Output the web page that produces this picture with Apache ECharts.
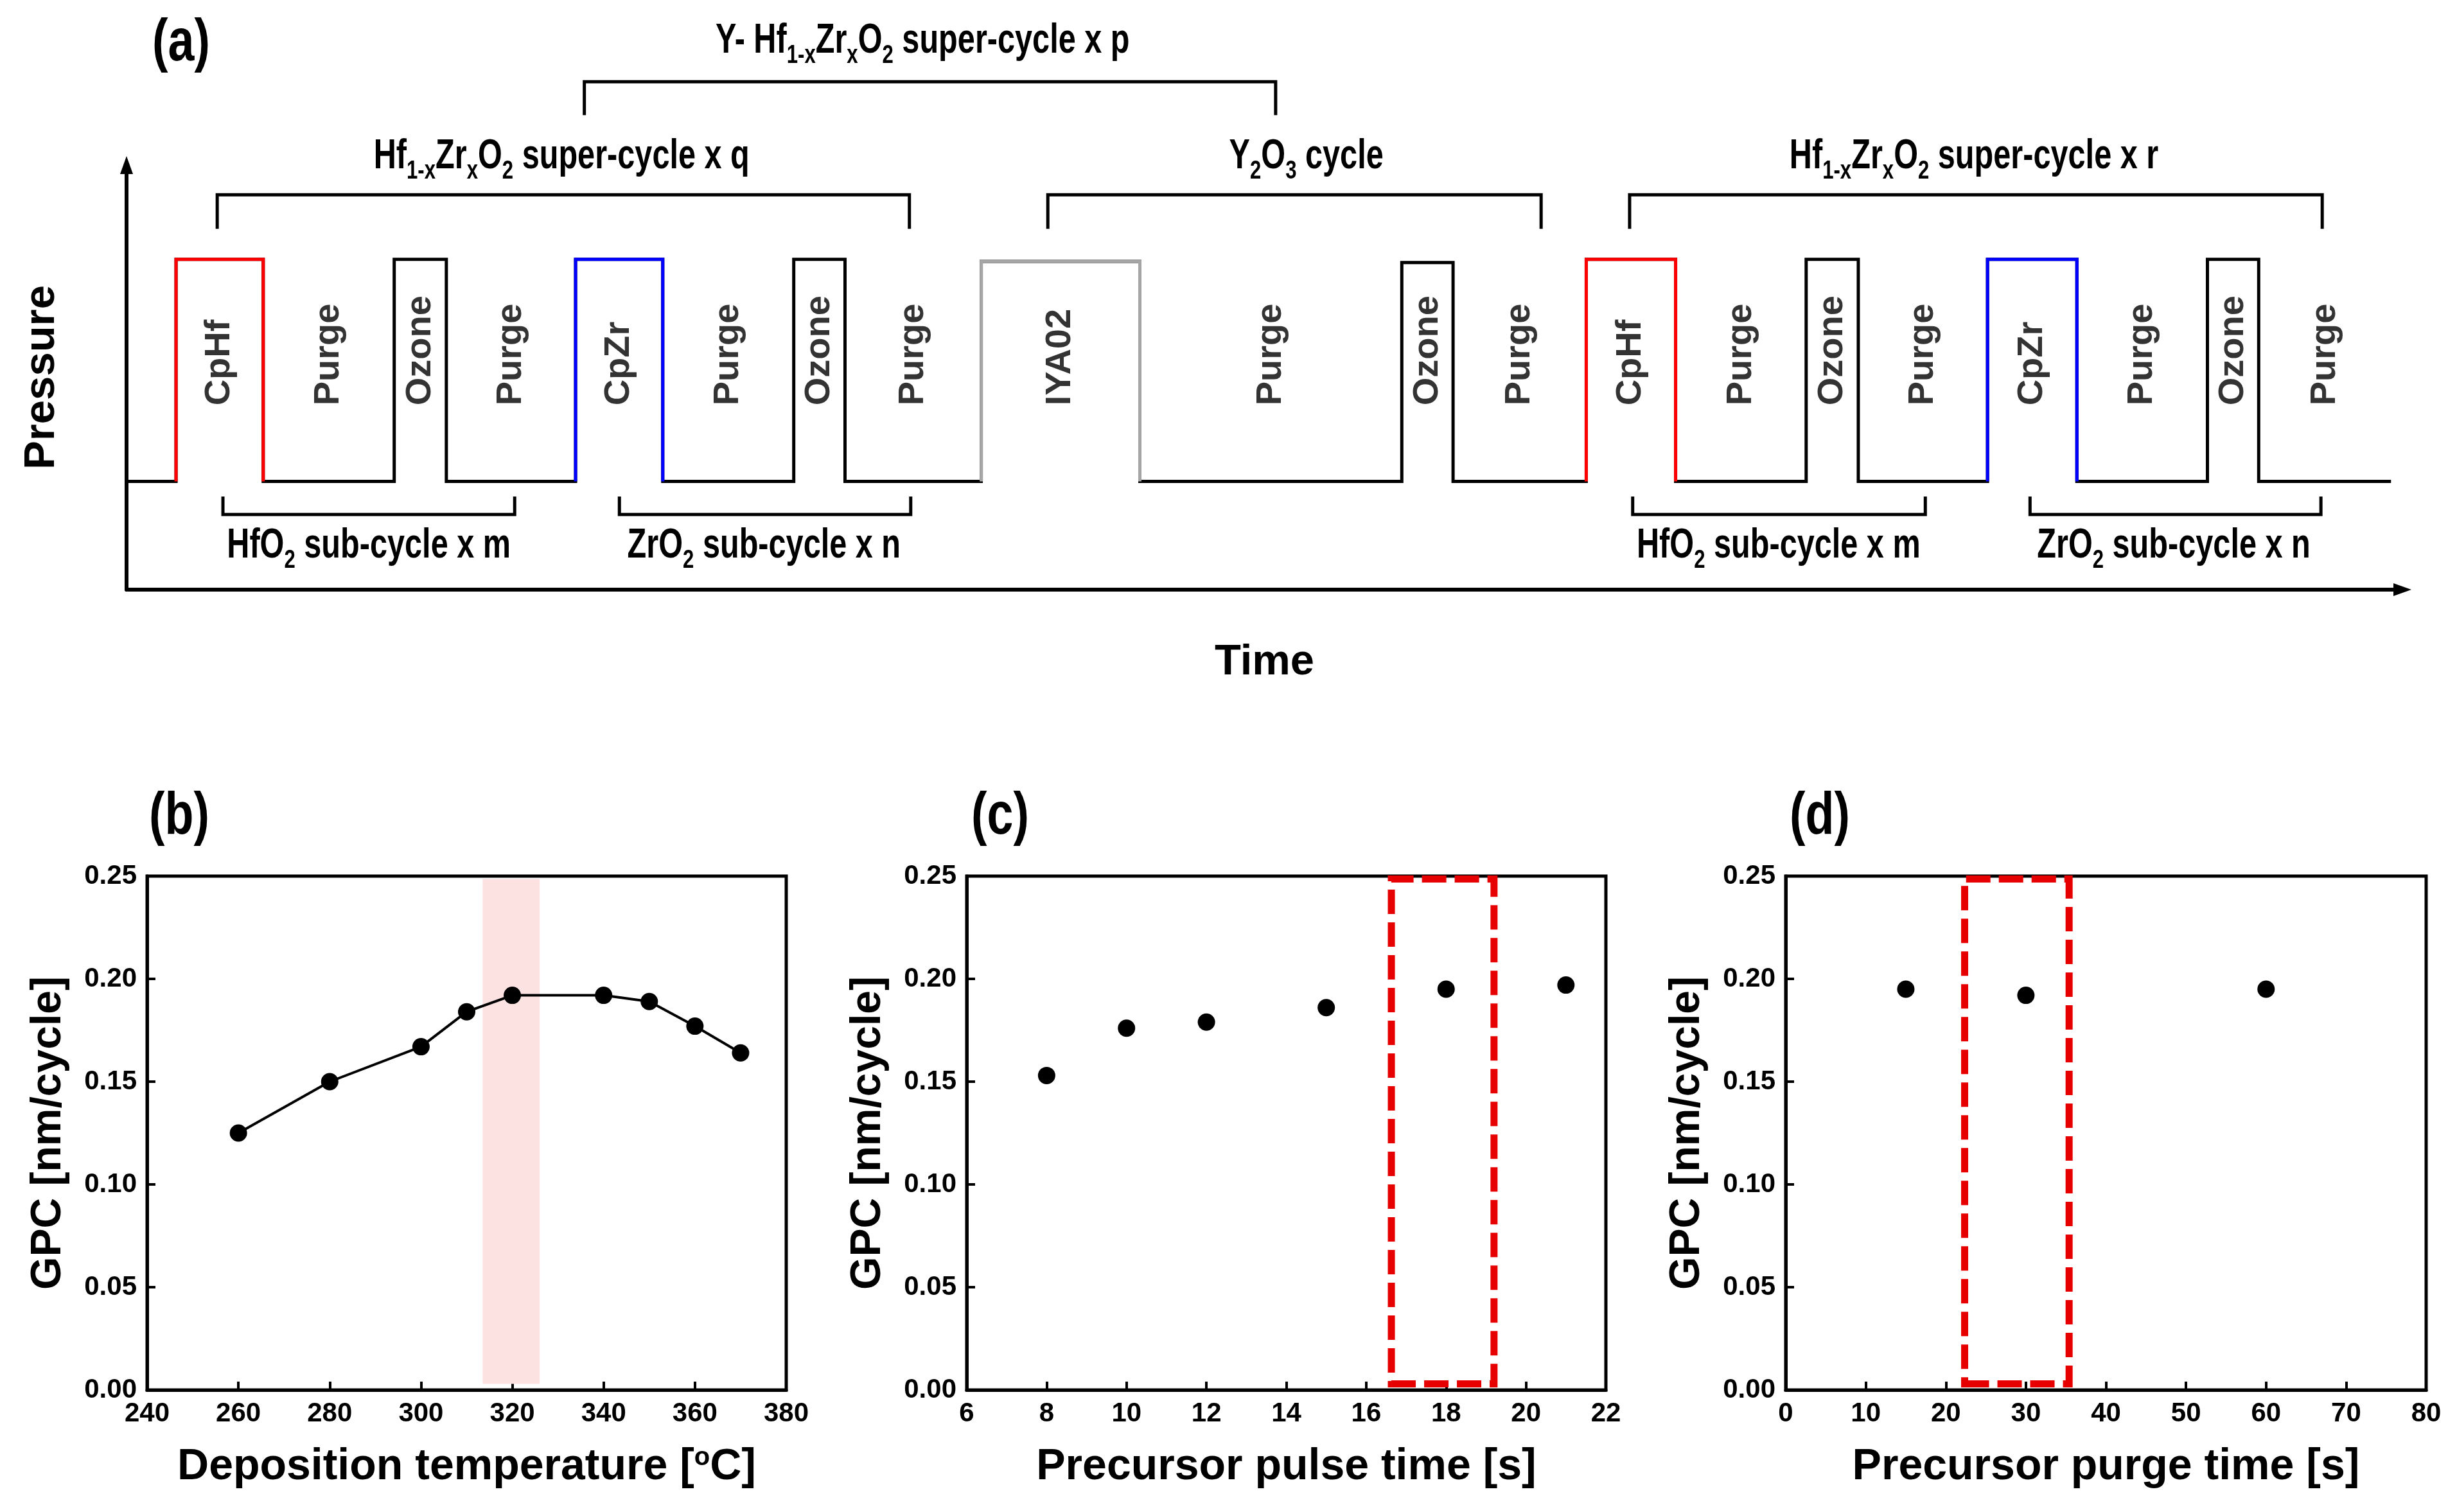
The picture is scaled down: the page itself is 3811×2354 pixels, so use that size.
<!DOCTYPE html>
<html><head><meta charset="utf-8">
<script src="https://cdn.jsdelivr.net/npm/echarts/dist/echarts.min.js"></script>
<style>html,body{margin:0;padding:0;background:#fff}#c{width:3811px;height:2354px}</style>
</head><body><div id="c"></div>
<script>
// ---------- (a) process sequence diagram data (time in arbitrary units, pressure in arbitrary units) ----------
const segNames    = ['', 'CpHf','Purge','Ozone','Purge','CpZr','Purge','Ozone','Purge','IYA02','Purge','Ozone','Purge','CpHf','Purge','Ozone','Purge','CpZr','Purge','Ozone','Purge'];
const segDur      = [1.13, 1.99, 2.99, 1.19, 2.95, 1.99, 2.99, 1.17, 3.11, 3.62, 5.98, 1.17, 3.04, 2.04, 2.98, 1.19, 2.95, 2.04, 2.98, 1.17, 3.02];
const segKind     = ['base','Hf','base','O3','base','Zr','base','O3','base','Y','base','O3','base','Hf','base','O3','base','Zr','base','O3','base'];
const segPressure = [1, 3.05, 1, 3.05, 1, 3.05, 1, 3.05, 1, 3.03, 1, 3.02, 1, 3.05, 1, 3.05, 1, 3.05, 1, 3.05, 1];
const basePressure = 1;

// brackets: [start, end] in time units, [bar level, tip level] in pressure units
const bracketSpan  = [[2.07,17.87],[21.03,32.29],[34.31,50.12],[10.45,26.23],[2.2,8.86],[11.25,17.9],[34.38,41.06],[43.45,50.09]];
const bracketLevel = [[3.65,3.335],[3.65,3.335],[3.65,3.335],[4.694,4.386],[0.694,0.861],[0.694,0.861],[0.694,0.861],[0.694,0.861]];
const bracketText  = [
  'Hf{s|1-x}Zr{s|x}O{s|2} super-cycle x q',
  'Y{s|2}O{s|3} cycle',
  'Hf{s|1-x}Zr{s|x}O{s|2} super-cycle x r',
  'Y- Hf{s|1-x}Zr{s|x}O{s|2} super-cycle x p',
  'HfO{s|2} sub-cycle x m',
  'ZrO{s|2} sub-cycle x n',
  'HfO{s|2} sub-cycle x m',
  'ZrO{s|2} sub-cycle x n'
];
const bracketTextAt = [[9.93,4.0],[26.93,4.0],[42.17,4.0],[18.17,5.07],[5.53,0.40],[14.55,0.40],[37.71,0.40],[46.73,0.40]];
const stepLabelLevel = 1.70;

// ---------- (b) GPC vs deposition temperature ----------
const tempX   = [260, 280, 300, 310, 320, 340, 350, 360, 370];
const tempGPC = [0.125, 0.150, 0.167, 0.184, 0.192, 0.192, 0.189, 0.177, 0.164];
const tempWindow = [313.5, 326];
// ---------- (c) GPC vs precursor pulse time ----------
const pulseX   = [8, 10, 12, 15, 18, 21];
const pulseGPC = [0.153, 0.176, 0.179, 0.186, 0.195, 0.197];
const pulseWindow = [16.63, 19.2];
// ---------- (d) GPC vs precursor purge time ----------
const purgeX   = [15, 30, 60];
const purgeGPC = [0.195, 0.192, 0.195];
const purgeWindow = [22.35, 35.4];
const windowGPC = [0.003, 0.2486];

const panelLabels = ['(a)', '(b)', '(c)', '(d)'];

// ---------- styles ----------
const kindColor = {base:'#000', O3:'#000', Hf:'#ff0000', Zr:'#0000ff', Y:'#a6a6a6'};
const BOLD = "'Liberation Sans', Arial, sans-serif";
const NARROW_SCALE = 0.76;

// build waveform
let t = 0;
const segStart = [], segEnd = [];
segDur.forEach((d,i)=>{ segStart.push(t); t += d; segEnd.push(t); });
const wave = [[0, basePressure]];
segDur.forEach((d,i)=>{
  if (segKind[i] !== 'base') {
    wave.push([segStart[i], basePressure], [segStart[i], segPressure[i]], [segEnd[i], segPressure[i]], [segEnd[i], basePressure]);
  } else wave.push([segEnd[i], basePressure]);
});

const series = [];
series.push({type:'line', xAxisIndex:0, yAxisIndex:0, data: wave, symbol:'none', silent:true,
  lineStyle:{color:'#000', width:5, join:'miter'}, z:2});
segDur.forEach((d,i)=>{
  if (segKind[i]==='Hf'||segKind[i]==='Zr'||segKind[i]==='Y') {
    series.push({type:'line', xAxisIndex:0, yAxisIndex:0, symbol:'none', silent:true, z:3,
      lineStyle:{color:kindColor[segKind[i]], width:5, join:'miter'},
      data:[[segStart[i], basePressure],[segStart[i], segPressure[i]],[segEnd[i], segPressure[i]],[segEnd[i], basePressure]]});
  }
});
// step labels
series.push({type:'scatter', xAxisIndex:0, yAxisIndex:0, symbolSize:1, itemStyle:{color:'rgba(0,0,0,0)'}, silent:true,
  data: segNames.map((n,i)=> n ? {value:[(segStart[i]+segEnd[i])/2, stepLabelLevel], name:n} : null).filter(Boolean),
  label:{show:true, position:'inside', formatter:'{b}', rotate:90, align:'left', verticalAlign:'middle',
    fontFamily:BOLD, fontWeight:'bold', fontSize:56, color:'#000'}});
// brackets
bracketSpan.forEach((s,i)=>{
  const [bar, tip] = bracketLevel[i];
  series.push({type:'line', xAxisIndex:1, yAxisIndex:1, symbol:'none', silent:true,
    lineStyle:{color:'#000', width:5, join:'miter'},
    data:[[s[0], tip],[s[0], bar],[s[1], bar],[s[1], tip]]});
});
// bracket captions (condensed bold text with subscripts)
series.push({type:'custom', xAxisIndex:1, yAxisIndex:1, silent:true,
  data: bracketTextAt,
  renderItem: function(params, api){
    const p = api.coord([api.value(0), api.value(1)]);
    return {type:'text', x:p[0], y:p[1], scaleX:NARROW_SCALE,
      style:{text: bracketText[params.dataIndex], align:'center', verticalAlign:'middle',
        fontFamily:BOLD, fontWeight:'bold', fontSize:64, lineHeight:86, fill:'#000',
        rich:{s:{fontFamily:BOLD, fontWeight:'bold', fontSize:41, lineHeight:41, verticalAlign:'bottom', fill:'#000'}}}};
  }});

// panels b, c, d
series.push({type:'line', xAxisIndex:2, yAxisIndex:2, data: tempX.map((x,i)=>[x,tempGPC[i]]),
  symbol:'circle', symbolSize:27, itemStyle:{color:'#000', opacity:1}, lineStyle:{color:'#000', width:4}, z:3,
  markArea:{silent:true, itemStyle:{color:'#fde2e2'}, data:[[{coord:[tempWindow[0], windowGPC[0]]},{coord:[tempWindow[1], windowGPC[1]]}]]}});
const dashRect = {color:'rgba(0,0,0,0)', borderColor:'#e60000', borderWidth:11, borderType:[38,13]};
series.push({type:'scatter', xAxisIndex:3, yAxisIndex:3, data: pulseX.map((x,i)=>[x,pulseGPC[i]]),
  symbol:'circle', symbolSize:27, itemStyle:{color:'#000', opacity:1}, z:3,
  markArea:{silent:true, itemStyle:dashRect, data:[[{coord:[pulseWindow[0], windowGPC[0]]},{coord:[pulseWindow[1], windowGPC[1]]}]]}});
series.push({type:'scatter', xAxisIndex:4, yAxisIndex:4, data: purgeX.map((x,i)=>[x,purgeGPC[i]]),
  symbol:'circle', symbolSize:27, itemStyle:{color:'#000', opacity:1}, z:3,
  markArea:{silent:true, itemStyle:dashRect, data:[[{coord:[purgeWindow[0], windowGPC[0]]},{coord:[purgeWindow[1], windowGPC[1]]}]]}});

// axes
const diagramXMax = 51.95;
const hiddenAxis = {axisLine:{show:false}, axisTick:{show:false}, axisLabel:{show:false}, splitLine:{show:false}};
const xNameStyle = {fontFamily:BOLD, fontWeight:'bold', fontSize:68, color:'#000',
  rich:{o:{fontFamily:BOLD, fontWeight:'bold', fontSize:40, lineHeight:40, verticalAlign:'top', color:'#000'}}};
function panelX(grid, min, max, interval, name){
  return {type:'value', gridIndex:grid, min, max, interval, name, nameLocation:'middle', nameGap:86,
    nameTextStyle: xNameStyle,
    axisLine:{show:true, onZero:false, lineStyle:{color:'#000', width:5}},
    axisTick:{show:true, inside:true, length:13, lineStyle:{color:'#000', width:4}},
    axisLabel:{show:true, margin:16, fontFamily:BOLD, fontWeight:'bold', fontSize:42, color:'#000'},
    splitLine:{show:false}};
}
function panelY(grid){
  return {type:'value', gridIndex:grid, min:0, max:0.25, interval:0.05, name:'GPC [nm/cycle]', nameLocation:'middle', nameGap:120,
    nameTextStyle:{fontFamily:BOLD, fontWeight:'bold', fontSize:66, color:'#000'},
    axisLine:{show:true, onZero:false, lineStyle:{color:'#000', width:5}},
    axisTick:{show:true, inside:true, length:13, lineStyle:{color:'#000', width:4}},
    axisLabel:{show:true, margin:16, fontFamily:BOLD, fontWeight:'bold', fontSize:42, color:'#000', formatter:v=>v.toFixed(2)},
    splitLine:{show:false}};
}
const panelLabelAt = [[282,69],[279,1273],[1557,1273],[2833,1273]];

const option = {
  animation:false,
  backgroundColor:'#fff',
  grid:[
    {left:197, top:257, width:3543, height:661},
    {left:197, top:0, width:3543, height:918},
    {left:229, top:1364, width:995, height:800, show:true, borderColor:'#000', borderWidth:5},
    {left:1505, top:1364, width:995, height:800, show:true, borderColor:'#000', borderWidth:5},
    {left:2780, top:1364, width:997, height:800, show:true, borderColor:'#000', borderWidth:5}
  ],
  xAxis:[
    {type:'value', gridIndex:0, min:0, max:diagramXMax, name:'Time', nameLocation:'middle', nameGap:80,
      nameTextStyle:{fontFamily:BOLD, fontWeight:'bold', fontSize:67, color:'#000'},
      axisLine:{show:true, onZero:false, symbol:['none','triangle'], symbolSize:[20,28], lineStyle:{color:'#000', width:6}},
      axisTick:{show:false}, axisLabel:{show:false}, splitLine:{show:false}},
    Object.assign({type:'value', gridIndex:1, min:0, max:diagramXMax}, hiddenAxis),
    panelX(2, 240, 380, 20, 'Deposition temperature [{o|o}C]'),
    panelX(3, 6, 22, 2, 'Precursor pulse time [s]'),
    panelX(4, 0, 80, 10, 'Precursor purge time [s]')
  ],
  yAxis:[
    {type:'value', gridIndex:0, min:0, max:3.92, name:'Pressure', nameLocation:'middle', nameGap:98,
      nameTextStyle:{fontFamily:BOLD, fontWeight:'bold', fontSize:67, color:'#000'},
      axisLine:{show:true, onZero:false, symbol:['none','triangle'], symbolSize:[20,28], lineStyle:{color:'#000', width:6}},
      axisTick:{show:false}, axisLabel:{show:false}, splitLine:{show:false}},
    Object.assign({type:'value', gridIndex:1, min:0, max:5.45}, hiddenAxis),
    panelY(2), panelY(3), panelY(4)
  ],
  graphic: panelLabels.map((txt,i)=>({type:'text', x:panelLabelAt[i][0], y:panelLabelAt[i][1], scaleX:0.8,
    style:{text:txt, align:'center', verticalAlign:'middle', fontFamily:BOLD, fontWeight:'bold', fontSize:92, fill:'#000'}})),
  series
};
const chart = echarts.init(document.getElementById('c'), null, {renderer:'canvas'});
chart.setOption(option);
</script></body></html>
